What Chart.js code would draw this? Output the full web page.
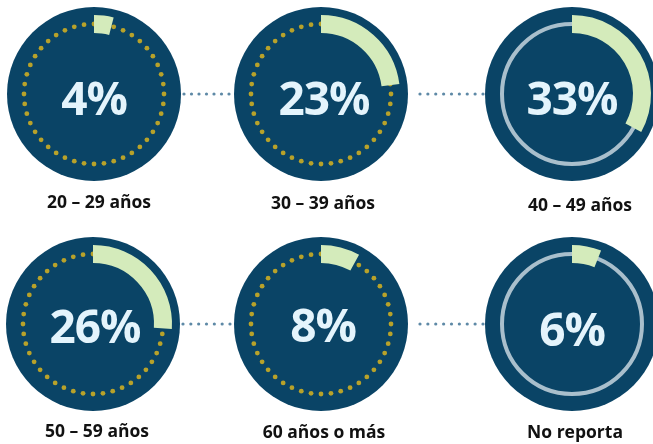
<!DOCTYPE html>
<html><head><meta charset="utf-8">
<script src="https://cdn.jsdelivr.net/npm/chart.js@4"></script>
<style>
html,body{margin:0;padding:0;background:#fff;}
#wrap{position:relative;width:653px;height:444px;overflow:hidden;background:#fff;font-family:"Open Sans",sans-serif;}
canvas{position:absolute;}
.pct{position:absolute;width:160px;text-align:center;color:#e4f4fc;font-weight:700;font-size:46px;line-height:60px;letter-spacing:-1px;}
.lbl{position:absolute;width:200px;text-align:center;color:#111;font-weight:700;font-size:17.5px;line-height:22px;}
</style></head><body><div id="wrap"><canvas id="links" width="653" height="444" style="left:0;top:0"></canvas></div>
<script>
// ---- data ----
const categories = ["20 – 29 años", "30 – 39 años", "40 – 49 años", "50 – 59 años", "60 años o más", "No reporta"];
const percentages = [4, 23, 33, 26, 8, 6];

// ---- layout / style ----
const layout = [
  {cx: 94,  cy: 94,  tx: 0, ty: 3, lx: 99,  ly: 201, ring: 'dots'},
  {cx: 321, cy: 94,  tx: 3, ty: 3, lx: 323, ly: 202, ring: 'dots'},
  {cx: 572, cy: 94,  tx: 0, ty: 3, lx: 580, ly: 204, ring: 'solid'},
  {cx: 93,  cy: 324, tx: 2, ty: 1, lx: 97,  ly: 430, ring: 'dots'},
  {cx: 321, cy: 324, tx: 2, ty: 0, lx: 324, ly: 431, ring: 'dots'},
  {cx: 572, cy: 324, tx: 0, ty: 4, lx: 575, ly: 431, ring: 'solid'}
];
const links = [
  {x1: 184, x2: 229, y: 94}, {x1: 420, x2: 483, y: 94},
  {x1: 183, x2: 230, y: 324}, {x1: 420, x2: 483, y: 324}
];
const DISC_R = 87, OUTER_R = 79, INNER_R = 61, RING_R = 70, CAN = 190;
const NAVY = '#0a4466', GREEN = '#d4ebbb', GOLD = '#b8a22a', GREY = '#a9bfcc', LINK = '#5e89a6';

// connectors
(function(){
  const c = document.getElementById('links').getContext('2d');
  c.fillStyle = LINK;
  links.forEach(l => {
    const n = Math.round((l.x2 - l.x1) / 7.6);
    for (let i = 0; i <= n; i++) {
      const x = l.x1 + (l.x2 - l.x1) * i / n;
      c.beginPath(); c.arc(x, l.y, 1.6, 0, Math.PI * 2); c.fill();
    }
  });
})();

const discPlugin = {
  id: 'disc',
  beforeDatasetsDraw(chart, args, opts) {
    const ctx = chart.ctx, a = chart.chartArea;
    const x = (a.left + a.right) / 2, y = (a.top + a.bottom) / 2;
    ctx.save();
    ctx.fillStyle = NAVY;
    ctx.beginPath(); ctx.arc(x, y, DISC_R, 0, Math.PI * 2); ctx.fill();
    if (opts.ring === 'dots') {
      ctx.fillStyle = GOLD;
      const n = 44;
      for (let i = 0; i < n; i++) {
        const t = -Math.PI / 2 + i * 2 * Math.PI / n;
        ctx.beginPath(); ctx.arc(x + RING_R * Math.cos(t), y + RING_R * Math.sin(t), 2.4, 0, Math.PI * 2); ctx.fill();
      }
    } else {
      ctx.strokeStyle = GREY; ctx.lineWidth = 4;
      ctx.beginPath(); ctx.arc(x, y, RING_R, 0, Math.PI * 2); ctx.stroke();
    }
    ctx.restore();
  }
};

const wrap = document.getElementById('wrap');
percentages.forEach((v, i) => {
  const L = layout[i];
  const cv = document.createElement('canvas');
  cv.width = CAN; cv.height = CAN;
  cv.style.left = (L.cx - CAN / 2) + 'px';
  cv.style.top = (L.cy - CAN / 2) + 'px';
  wrap.appendChild(cv);
  new Chart(cv, {
    type: 'doughnut',
    data: {
      labels: [categories[i], ''],
      datasets: [{
        data: [v, 100 - v],
        backgroundColor: [GREEN, 'rgba(0,0,0,0)'],
        borderWidth: 0
      }]
    },
    options: {
      responsive: false,
      devicePixelRatio: 1,
      animation: false,
      events: [],
      radius: OUTER_R,
      cutout: (INNER_R / OUTER_R * 100) + '%',
      layout: {padding: 0},
      plugins: {legend: {display: false}, tooltip: {enabled: false}, disc: {ring: L.ring}}
    },
    plugins: [discPlugin]
  });
  const p = document.createElement('div');
  p.className = 'pct';
  p.textContent = v + '%';
  p.style.left = (L.cx + L.tx - 80) + 'px';
  p.style.top = (L.cy + L.ty - 30) + 'px';
  wrap.appendChild(p);
  const lb = document.createElement('div');
  lb.className = 'lbl';
  lb.textContent = categories[i];
  lb.style.left = (L.lx - 100) + 'px';
  lb.style.top = (L.ly - 11) + 'px';
  wrap.appendChild(lb);
});
</script></body></html>
